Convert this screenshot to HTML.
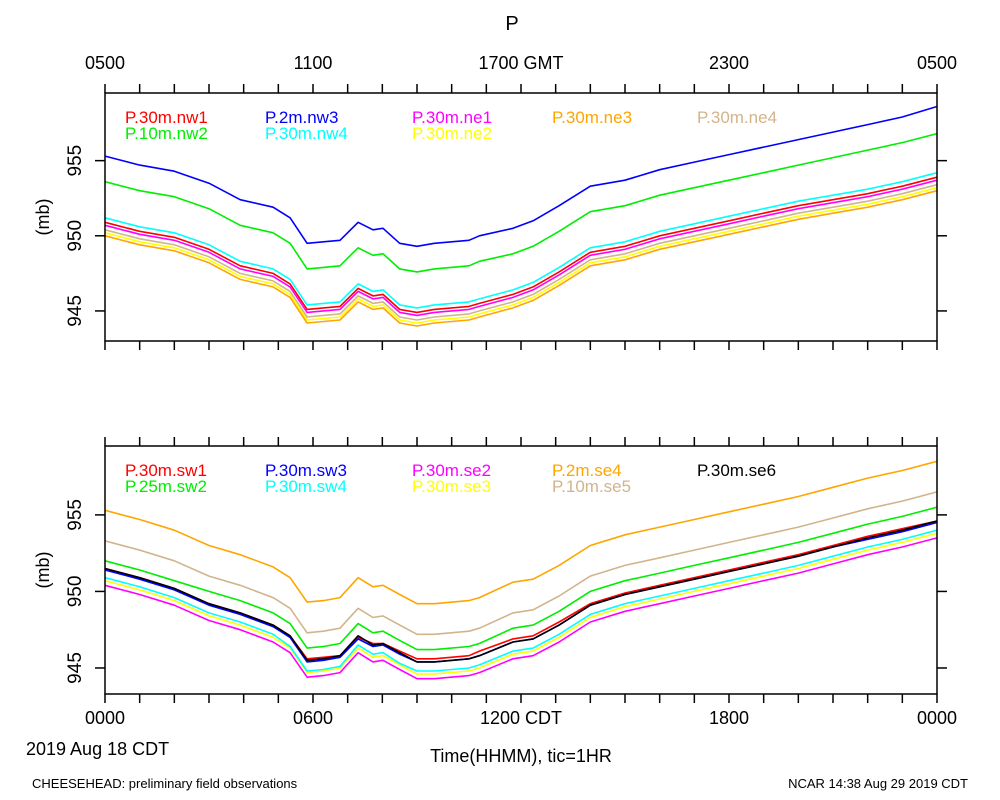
<!DOCTYPE html>
<html><head><meta charset="utf-8"><style>
body{margin:0;background:#fff;}
svg{display:block;font-family:"Liberation Sans",sans-serif;}
</style></head><body>
<svg id="chart" width="1000" height="800">
<text x="512" y="30" font-size="20" text-anchor="middle">P</text>
<g font-size="18" text-anchor="middle">
<text x="105" y="69">0500</text><text x="313" y="69">1100</text><text x="521" y="69">1700 GMT</text><text x="729" y="69">2300</text><text x="937" y="69">0500</text></g>
<g font-size="18" text-anchor="middle">
<text x="105" y="724">0000</text><text x="313" y="724">0600</text><text x="521" y="724">1200 CDT</text><text x="729" y="724">1800</text><text x="937" y="724">0000</text></g>
<text x="26" y="755" font-size="18">2019 Aug 18 CDT</text>
<text x="521" y="762" font-size="18" text-anchor="middle">Time(HHMM), tic=1HR</text>
<text x="32" y="788" font-size="13">CHEESEHEAD: preliminary field observations</text>
<text x="968" y="788" font-size="13" text-anchor="end">NCAR 14:38 Aug 29 2019 CDT</text>
<g id="plots"></g>
</svg>
<script>
const hours = [0,1,2,3,3.9,4.85,5.34,5.83,6.3,6.78,7.3,7.73,8.02,8.5,9.0,9.5,10.5,10.8,11.77,12.35,13.1,14,15,16,17,18,19,20,21,22,23,24];
const topNames = ["P.30m.nw1","P.10m.nw2","P.2m.nw3","P.30m.nw4","P.30m.ne1","P.30m.ne2","P.30m.ne3","P.30m.ne4"];
const topColors = ["#ff0000","#00ee00","#0000ff","#00ffff","#ff00ff","#ffff00","#ffa500","#d2b48c"];
const nw3 = [955.3,954.7,954.3,953.5,952.4,951.9,951.2,949.5,949.6,949.7,950.9,950.4,950.5,949.5,949.3,949.5,949.7,950.0,950.5,951.0,952.0,953.3,953.7,954.4,954.9,955.4,955.9,956.4,956.9,957.4,957.9,958.6];
const nw2 = [953.6,953.0,952.6,951.8,950.7,950.2,949.5,947.8,947.9,948.0,949.2,948.7,948.8,947.8,947.6,947.8,948.0,948.3,948.8,949.3,950.3,951.6,952.0,952.7,953.2,953.7,954.2,954.7,955.2,955.7,956.2,956.8];
const nw4 = [951.2,950.6,950.2,949.4,948.3,947.8,947.1,945.4,945.5,945.6,946.8,946.3,946.4,945.4,945.2,945.4,945.6,945.8,946.4,946.9,947.9,949.2,949.6,950.3,950.8,951.3,951.8,952.3,952.7,953.1,953.6,954.2];
const nw1 = [950.9,950.3,949.9,949.1,948.0,947.5,946.8,945.1,945.2,945.3,946.5,946.0,946.1,945.1,944.9,945.1,945.3,945.5,946.1,946.6,947.6,948.9,949.3,950.0,950.5,951.0,951.5,952.0,952.4,952.8,953.3,953.9];
const ne1 = [950.7,950.1,949.7,948.9,947.8,947.3,946.6,944.9,945.0,945.1,946.3,945.8,945.9,944.9,944.7,944.9,945.1,945.3,945.9,946.4,947.4,948.7,949.1,949.8,950.3,950.8,951.3,951.8,952.2,952.6,953.1,953.7];
const ne4 = [950.4,949.8,949.4,948.6,947.5,947.0,946.3,944.6,944.7,944.8,946.0,945.5,945.6,944.6,944.4,944.6,944.8,945.0,945.6,946.1,947.1,948.4,948.8,949.5,950.0,950.5,951.0,951.5,951.9,952.3,952.8,953.4];
const ne2 = [950.2,949.6,949.2,948.4,947.3,946.8,946.1,944.4,944.5,944.6,945.8,945.3,945.4,944.4,944.2,944.4,944.6,944.8,945.4,945.9,946.9,948.2,948.6,949.3,949.8,950.3,950.8,951.3,951.7,952.1,952.6,953.2];
const ne3 = [950.0,949.4,949.0,948.2,947.1,946.6,945.9,944.2,944.3,944.4,945.6,945.1,945.2,944.2,944.0,944.2,944.4,944.6,945.2,945.7,946.7,948.0,948.4,949.1,949.6,950.1,950.6,951.1,951.5,951.9,952.4,953.0];
const botNames = ["P.30m.sw1","P.25m.sw2","P.30m.sw3","P.30m.sw4","P.30m.se2","P.30m.se3","P.2m.se4","P.10m.se5","P.30m.se6"];
const botColors = ["#ff0000","#00ee00","#0000ff","#00ffff","#ff00ff","#ffff00","#ffa500","#d2b48c","#000000"];
const se4 = [955.3,954.7,954.0,953.0,952.4,951.6,950.9,949.3,949.4,949.6,950.9,950.3,950.4,949.8,949.2,949.2,949.4,949.6,950.6,950.8,951.7,953.0,953.7,954.2,954.7,955.2,955.7,956.2,956.8,957.4,957.9,958.5];
const se5 = [953.3,952.7,952.0,951.0,950.4,949.6,948.9,947.3,947.4,947.6,948.9,948.3,948.4,947.8,947.2,947.2,947.4,947.6,948.6,948.8,949.7,951.0,951.7,952.2,952.7,953.2,953.7,954.2,954.8,955.4,955.9,956.5];
const sw2 = [952.0,951.4,950.7,950.0,949.4,948.6,947.9,946.3,946.4,946.6,947.9,947.3,947.4,946.8,946.2,946.2,946.4,946.6,947.6,947.8,948.7,950.0,950.7,951.2,951.7,952.2,952.7,953.2,953.8,954.4,954.9,955.5];
const se6 = [951.5,950.9,950.2,949.2,948.6,947.8,947.1,945.5,945.6,945.8,947.1,946.5,946.6,946.0,945.4,945.4,945.6,945.8,946.7,946.9,947.8,949.1,949.8,950.3,950.8,951.3,951.8,952.3,952.9,953.5,954.0,954.6];
const sw1 = [951.5,950.9,950.2,949.2,948.6,947.8,947.1,945.6,945.7,945.8,947.0,946.6,946.6,946.1,945.6,945.6,945.8,946.1,946.9,947.1,948.0,949.2,949.9,950.4,950.9,951.4,951.9,952.4,953.0,953.6,954.1,954.6];
const sw3 = [951.4,950.8,950.1,949.1,948.5,947.7,947.0,945.4,945.5,945.7,946.9,946.4,946.5,945.9,945.4,945.4,945.6,945.8,946.7,946.9,947.8,949.1,949.8,950.3,950.8,951.3,951.8,952.3,952.9,953.4,953.9,954.5];
const sw4 = [950.9,950.3,949.6,948.6,948.0,947.2,946.4,944.8,944.9,945.1,946.5,945.9,946.0,945.3,944.8,944.8,945.0,945.2,946.1,946.3,947.2,948.5,949.2,949.7,950.2,950.7,951.2,951.7,952.3,952.9,953.4,954.0];
const se3 = [950.7,950.1,949.4,948.4,947.8,947.0,946.3,944.7,944.8,945.0,946.3,945.7,945.8,945.2,944.6,944.6,944.8,945.0,945.9,946.1,947.0,948.3,949.0,949.5,950.0,950.5,951.0,951.5,952.1,952.7,953.2,953.8];
const se2 = [950.4,949.8,949.1,948.1,947.5,946.7,946.0,944.4,944.5,944.7,946.0,945.4,945.5,944.9,944.3,944.3,944.5,944.7,945.6,945.8,946.7,948.0,948.7,949.2,949.7,950.2,950.7,951.2,951.8,952.4,952.9,953.5];
const yTicks = [945,950,955];

const NS="http://www.w3.org/2000/svg";
const root=document.getElementById('plots');
function mk(tag,attrs,parent){const e=document.createElementNS(NS,tag);for(const k in attrs)e.setAttribute(k,attrs[k]);(parent||root).appendChild(e);return e;}
const X0=105,X1=937;
function xs(h){return X0+(X1-X0)*h/24;}

function panel(name,top,bottom,ymin,ymax,series,names,colors,order,legendPos){
  const g=mk('g',{});
  
  
  const ys=v=>bottom-(v-ymin)/(ymax-ymin)*(bottom-top);
  for(let h=0;h<=24;h++){
    const x=xs(h);
    mk('line',{x1:x,x2:x,y1:top-9,y2:top,stroke:'#000','stroke-width':1.5},g);
    mk('line',{x1:x,x2:x,y1:bottom,y2:bottom+9,stroke:'#000','stroke-width':1.5},g);
  }
  yTicks.forEach(v=>{
    const y=ys(v);
    mk('line',{x1:X0-10,x2:X0,y1:y,y2:y,stroke:'#000','stroke-width':1.5},g);
    mk('line',{x1:X1,x2:X1+10,y1:y,y2:y,stroke:'#000','stroke-width':1.5},g);
    const t=mk('text',{x:0,y:0,'font-size':19,'text-anchor':'middle',transform:`translate(81,${y}) rotate(-90)`},g);
    
    
    t.textContent=v;
  });
  const yt=mk('text',{x:0,y:0,'font-size':18,'text-anchor':'middle',transform:`translate(49,${(top+bottom)/2}) rotate(-90)`},g);
  
  
  yt.textContent='(mb)';
  order.forEach(i=>{
    const d=series[i].map((v,k)=>(k?'L':'M')+xs(hours[k]).toFixed(1)+','+ys(v).toFixed(1)).join('');
    const p=mk('path',{d:d,fill:'none',stroke:colors[i],'stroke-width':1.6,'stroke-linejoin':'round'},g);
    
    
  });
  mk('rect',{x:X0,y:top,width:X1-X0,height:bottom-top,fill:'none',stroke:'#000','stroke-width':1.5},g);
  names.forEach((n,i)=>{
    const t=mk('text',{x:legendPos[i][0],y:legendPos[i][1],'font-size':17,fill:colors[i]},g);
    
    
    t.textContent=n;
  });
}
const tl=123, tl2=139;
panel('top-panel',93,341,943.0,959.5,[nw1,nw2,nw3,nw4,ne1,ne2,ne3,ne4],topNames,topColors,[2,1,3,0,4,7,5,6],
  [[125,tl],[125,tl2],[265,tl],[265,tl2],[412,tl],[412,tl2],[552,tl],[697,tl]]);
const bl=476, bl2=492;
panel('bottom-panel',446,694,943.3,959.5,[sw1,sw2,sw3,sw4,se2,se3,se4,se5,se6],botNames,botColors,[6,7,1,4,5,3,0,2,8],
  [[125,bl],[125,bl2],[265,bl],[265,bl2],[412,bl],[412,bl2],[552,bl],[552,bl2],[697,bl]]);
</script>
</body></html>
